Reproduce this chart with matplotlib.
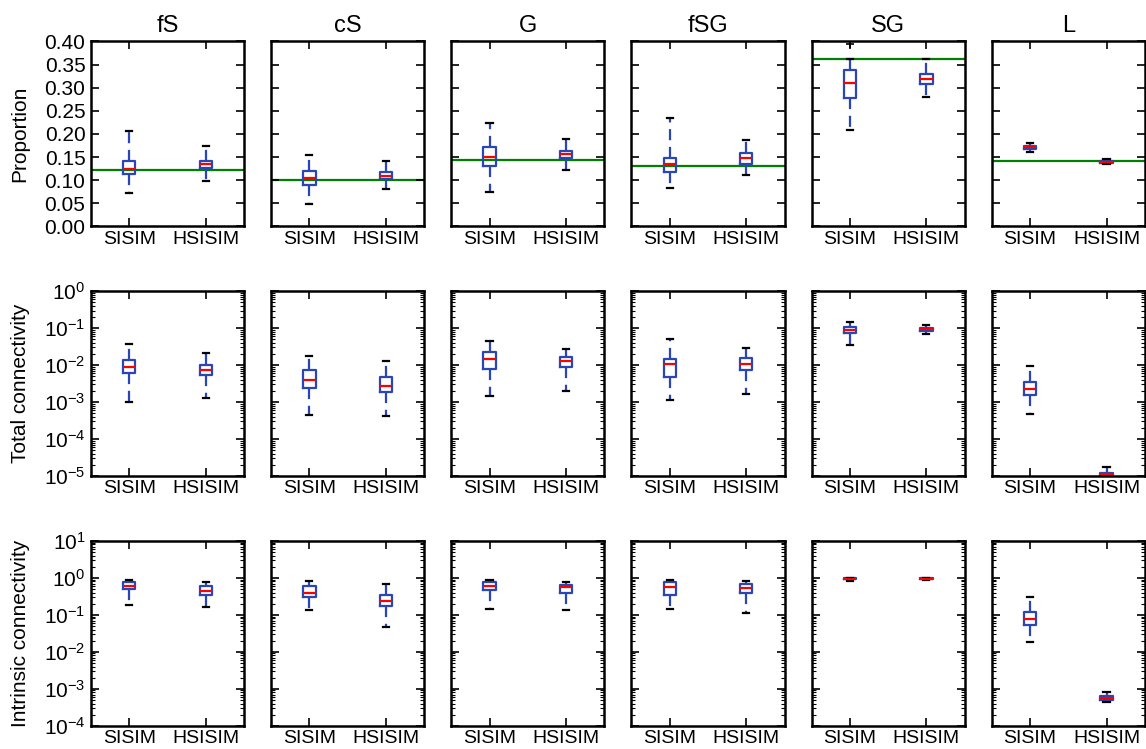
import matplotlib
matplotlib.use("Agg")
import matplotlib.pyplot as plt
from matplotlib.ticker import FormatStrFormatter, LogLocator, NullFormatter

plt.rcParams["font.family"] = ["Liberation Sans", "DejaVu Sans"]
plt.rcParams["mathtext.fontset"] = "custom"
plt.rcParams["mathtext.rm"] = "Liberation Sans"
plt.rcParams["mathtext.it"] = "Liberation Sans:italic"
plt.rcParams["mathtext.bf"] = "Liberation Sans:bold"

categories = ["fS", "cS", "G", "fSG", "SG", "L"]
methods = ["SISIM", "HSISIM"]

# box stats: [whislo, q1, median, q3, whishi]
prop_sisim = [
    [0.072, 0.114, 0.125, 0.142, 0.207],
    [0.048, 0.090, 0.104, 0.120, 0.155],
    [0.075, 0.131, 0.151, 0.171, 0.224],
    [0.083, 0.118, 0.136, 0.149, 0.235],
    [0.209, 0.278, 0.310, 0.338, 0.362],
    [0.162, 0.168, 0.172, 0.175, 0.181],
]
prop_hsisim = [
    [0.099, 0.126, 0.134, 0.142, 0.173],
    [0.082, 0.103, 0.110, 0.118, 0.142],
    [0.123, 0.148, 0.156, 0.163, 0.190],
    [0.112, 0.136, 0.147, 0.158, 0.188],
    [0.281, 0.307, 0.319, 0.330, 0.362],
    [0.134, 0.138, 0.140, 0.142, 0.146],
]
prop_fliers_sisim = [[], [], [], [], [0.3935], []]
prop_target = [0.122, 0.100, 0.144, 0.130, 0.362, 0.1426]

tc_sisim = [
    [0.00104, 0.0062, 0.0090, 0.0137, 0.0377],
    [0.00045, 0.0024, 0.00386, 0.0072, 0.018],
    [0.00145, 0.0079, 0.0148, 0.0229, 0.0446],
    [0.00113, 0.0048, 0.01065, 0.0148, 0.0494],
    [0.034, 0.072, 0.088, 0.106, 0.148],
    [0.00047, 0.00155, 0.0023, 0.0034, 0.0094],
]
tc_hsisim = [
    [0.0013, 0.0054, 0.0076, 0.0098, 0.0215],
    [0.00042, 0.00187, 0.00275, 0.00465, 0.0131],
    [0.00202, 0.0088, 0.0126, 0.0164, 0.0276],
    [0.00164, 0.0076, 0.0108, 0.0155, 0.0282],
    [0.070, 0.083, 0.094, 0.102, 0.123],
    [0.0000087, 0.0000103, 0.0000111, 0.000012, 0.0000172],
]

ic_sisim = [
    [0.186, 0.505, 0.62, 0.78, 0.90],
    [0.136, 0.294, 0.384, 0.608, 0.81],
    [0.145, 0.467, 0.62, 0.76, 0.90],
    [0.14, 0.333, 0.56, 0.78, 0.90],
    [0.83, 0.92, 0.95, 0.98, 1.0],
    [0.018, 0.053, 0.076, 0.12, 0.31],
]
ic_hsisim = [
    [0.164, 0.333, 0.454, 0.593, 0.78],
    [0.046, 0.171, 0.234, 0.347, 0.675],
    [0.133, 0.40, 0.56, 0.66, 0.78],
    [0.11, 0.40, 0.547, 0.675, 0.81],
    [0.90, 0.93, 0.95, 0.97, 0.99],
    [0.00045, 0.0005, 0.00056, 0.00062, 0.00081],
]

row_labels = ["Proportion", "Total connectivity", "Intrinsic connectivity"]


def stats(v, fliers=()):
    return dict(whislo=v[0], q1=v[1], med=v[2], q3=v[3], whishi=v[4], fliers=list(fliers))


fig, axes = plt.subplots(3, 6, figsize=(11.46, 7.49), dpi=100)
fig.subplots_adjust(left=0.0794, right=0.999, top=0.9446, bottom=0.031,
                    wspace=0.176, hspace=0.35)

rows = [(prop_sisim, prop_hsisim), (tc_sisim, tc_hsisim), (ic_sisim, ic_hsisim)]

for r in range(3):
    a, b = rows[r]
    for c in range(6):
        ax = axes[r, c]
        fl = prop_fliers_sisim[c] if r == 0 else []
        bx = [stats(a[c], fl), stats(b[c])]
        ax.bxp(bx, positions=[1, 2], widths=0.16,
               boxprops=dict(color="#2a45b5", lw=1.6),
               whiskerprops=dict(color="#2a45b5", lw=1.6, ls="--", dashes=(5, 3)),
               capprops=dict(color="black", lw=1.6),
               medianprops=dict(color="red", lw=1.6),
               flierprops=dict(marker="+", markeredgecolor="black", markersize=6, mew=1.2))
        ax.set_xlim(0.5, 2.5)
        ax.set_xticks([1, 2])
        ax.set_xticklabels(methods)
        if r == 0:
            ax.axhline(prop_target[c], color="#008000", lw=1.6, zorder=1)
            ax.set_ylim(0, 0.40)
            ax.set_yticks([i * 0.05 for i in range(9)])
            ax.yaxis.set_major_formatter(FormatStrFormatter("%.2f"))
            ax.set_title(categories[c], fontsize=17, pad=7)
        else:
            ax.set_yscale("log")
            if r == 1:
                ax.set_ylim(1e-5, 1e0)
            else:
                ax.set_ylim(1e-4, 1e1)
            ax.yaxis.set_major_locator(LogLocator(base=10, numticks=10))
            ax.yaxis.set_minor_locator(LogLocator(base=10, subs=range(2, 10), numticks=10))
            ax.yaxis.set_minor_formatter(NullFormatter())
        ax.tick_params(which="both", direction="in", top=True, right=True)
        ax.tick_params(which="major", length=6, width=1.2, labelsize=15, pad=4)
        ax.tick_params(axis="x", which="major", labelsize=14, pad=3)
        ax.tick_params(which="minor", length=3, width=0.8)
        for s in ax.spines.values():
            s.set_linewidth(1.8)
        if c == 0:
            ax.set_ylabel(row_labels[r], fontsize=15)
            ax.yaxis.set_label_coords(-0.40, 0.5)
        else:
            ax.set_yticklabels([])
            ax.yaxis.set_minor_formatter(NullFormatter())

fig.savefig("out.png", dpi=100)
